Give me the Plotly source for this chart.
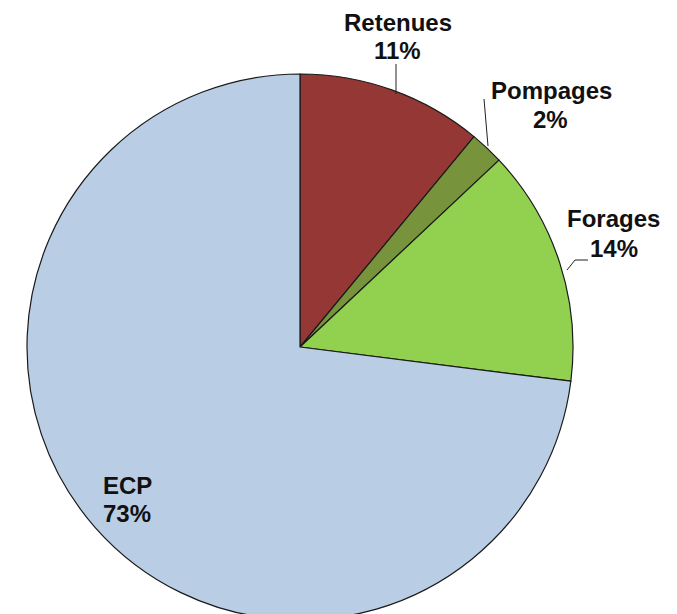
import plotly.graph_objects as go

# Data
categories = ["Retenues", "Pompages", "Forages", "ECP"]
values = [11, 2, 14, 73]
colors = ["#953735", "#77933C", "#92D050", "#B9CDE5"]

W, H = 677, 614
OFF = 8  # default page body margin in the rendered html

def px(x, y):
    """Target page pixel -> paper coordinates."""
    return (x - OFF) / W, 1 - (y - OFF) / H

# Pie geometry (page pixels)
cx, cy, r = 300, 347, 273
x0p, _ = px(cx - r, 0)
x1p, _ = px(cx + r, 0)
_, y1p = px(0, cy - r)
_, y0p = px(0, cy + r)

fig = go.Figure(go.Pie(
    labels=categories,
    values=values,
    sort=False,
    direction="clockwise",
    rotation=0,
    marker=dict(colors=colors, line=dict(color="#1a1a1a", width=1.2)),
    textinfo="none",
    hoverinfo="label+percent",
    showlegend=False,
    domain=dict(x=[x0p, x1p], y=[max(0, y0p), min(1, y1p)]),
))

total = sum(values)
pct = {c: f"{round(v / total * 100)}%" for c, v in zip(categories, values)}

font = dict(family="Liberation Sans, Arial, sans-serif", size=24, color="#111111")

# Label placement (name line, percent line) in page pixel coordinates
label_pos = {
    "Retenues": ((398, 22), (397, 50), "center"),
    "Pompages": ((551, 90), (550, 120), "center"),
    "Forages": ((613, 219), (614, 249), "center"),
    "ECP": ((101, 485), (101, 513), "left"),
}

annotations = []
for c in categories:
    (x1, y1), (x2, y2), align = label_pos[c]
    for (x, y), txt in (((x1, y1), f"<b>{c}</b>"), ((x2, y2), f"<b>{pct[c]}</b>")):
        xp, yp = px(x, y)
        annotations.append(dict(
            x=xp, y=yp, xref="paper", yref="paper", text=txt, showarrow=False,
            xanchor="left" if align == "left" else "center", yanchor="middle",
            font=font,
        ))

# Leader lines
leaders = [
    [(396, 64), (396, 94)],
    [(484, 99), (488, 146)],
    [(588, 260), (575, 260), (567, 270)],
]
shapes = []
for pts in leaders:
    for (xa, ya), (xb, yb) in zip(pts[:-1], pts[1:]):
        a = px(xa, ya)
        b = px(xb, yb)
        shapes.append(dict(type="line", xref="paper", yref="paper",
                           x0=a[0], y0=a[1], x1=b[0], y1=b[1],
                           line=dict(color="#222222", width=1)))

fig.update_layout(
    width=W, height=H,
    margin=dict(l=0, r=0, t=0, b=0),
    paper_bgcolor="white",
    plot_bgcolor="white",
    annotations=annotations,
    shapes=shapes,
)

fig.write_html("out.html")
